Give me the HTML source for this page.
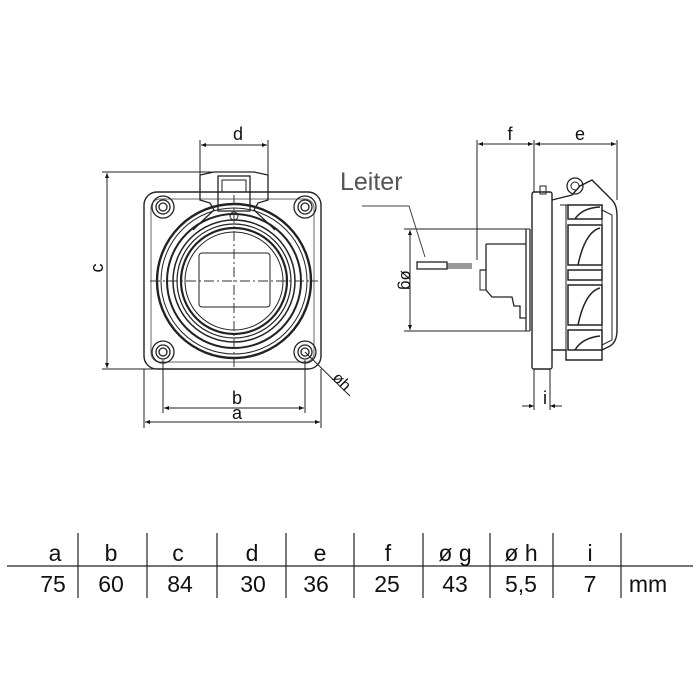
<!DOCTYPE html>
<html><head><meta charset="utf-8"><style>
html,body{margin:0;padding:0;background:#fff;}
svg{display:block}
text{font-family:"Liberation Sans",sans-serif;fill:#111}
</style></head><body>
<svg width="700" height="700" viewBox="0 0 700 700" xmlns="http://www.w3.org/2000/svg">
<defs>
<marker id="ar" viewBox="0 0 10 10" refX="10" refY="5" markerWidth="7" markerHeight="5" orient="auto-start-reverse"><path d="M0,1 L10,5 L0,9 z" fill="#111"/></marker>
</defs>
<g stroke="#222" fill="none" stroke-width="1">
<rect x="144" y="192" width="177" height="177" rx="13" stroke-width="1.4"/>
<rect x="151" y="199" width="163" height="163" rx="9" stroke="#666"/>
<g stroke-width="1.3">
<circle cx="163" cy="207" r="11"/><circle cx="163" cy="207" r="7"/><circle cx="163" cy="207" r="4"/>
<circle cx="305" cy="207" r="11"/><circle cx="305" cy="207" r="7"/><circle cx="305" cy="207" r="4"/>
<circle cx="163" cy="352" r="11"/><circle cx="163" cy="352" r="7"/><circle cx="163" cy="352" r="4"/>
<circle cx="305" cy="352" r="11"/><circle cx="305" cy="352" r="7"/><circle cx="305" cy="352" r="4"/>
</g>
<circle cx="234" cy="281" r="77" stroke-width="2.4"/>
<circle cx="234" cy="281" r="73" stroke-width="1"/>
<circle cx="234" cy="281" r="67" stroke-width="2"/>
<circle cx="234" cy="281" r="61" stroke-width="1.5"/>
<circle cx="234" cy="281" r="57" stroke-width="1.2"/>
<circle cx="234" cy="281" r="53" stroke-width="2.2"/>
<circle cx="234" cy="281" r="49" stroke-width="1"/>
<rect x="199" y="253" width="71" height="54" rx="3"/>
<path d="M200,175 L214,172 L254,172 L268,175 L268,200 L258,203 L254,210 Q270,225 275,230 M200,175 L200,200 L210,203 L214,210 Q198,225 193,230" stroke-width="1.3"/>
<rect x="218" y="176" width="32" height="35" stroke-width="1.3"/>
<rect x="222" y="180" width="24" height="12"/>
<circle cx="234" cy="216" r="4"/>
<path d="M150,281 H318 M234,195 V368" stroke-dasharray="10 3 2 3" stroke="#333"/>
<path d="M200,140 V178 M268,140 V178"/>
<path d="M201,145 H267" marker-start="url(#ar)" marker-end="url(#ar)"/>
<path d="M102,172 H212 M102,369 H160"/>
<path d="M107,173 V368" marker-start="url(#ar)" marker-end="url(#ar)"/>
<path d="M163,360 V413 M305,360 V413 M144,369 V428 M321,369 V428"/>
<path d="M164,408 H304" marker-start="url(#ar)" marker-end="url(#ar)"/>
<path d="M145,422 H320" marker-start="url(#ar)" marker-end="url(#ar)"/>
<path d="M305,352 L350,396"/>
<path d="M477,140 V260 M534,140 V192 M617,140 V200"/>
<path d="M478,144 H533" marker-start="url(#ar)" marker-end="url(#ar)"/>
<path d="M535,144 H616" marker-start="url(#ar)" marker-end="url(#ar)"/>
<rect x="532" y="192" width="20" height="177" rx="2" stroke-width="1.4"/>
<rect x="540" y="186" width="6" height="8"/>
<path d="M552,200 L572,195 L580,186 L592,180 L612,200 Q617,205 617,215 V330 Q617,342 610,346 L602,350 L602,360 L566,360 L566,350 L552,350" stroke-width="1.4"/>
<path d="M560,205 H602 V350 M566,205 V350 M602,210 L612,215 V340 L602,345"/>
<circle cx="575" cy="186" r="8" stroke-width="1.3"/><circle cx="575" cy="186" r="4"/>
<g stroke-width="1.5">
<rect x="568" y="205" width="34" height="14"/><rect x="568" y="225" width="34" height="40"/><rect x="568" y="270" width="34" height="10"/>
<rect x="568" y="285" width="34" height="40"/><rect x="568" y="330" width="34" height="20"/>
<path d="M578,265 Q585,232 600,228 M578,325 Q585,292 600,288 M575,219 Q582,208 600,207 M575,350 Q582,338 600,336"/>
</g>
<path d="M530,229 V331 M526,229 V331 M486,244 H526 M486,244 V290 M480,270 H486 V290 L492,297 H512 L514,306 H520 V318 H526" stroke-width="1.3"/>
<rect x="480" y="270" width="6" height="20"/>
<path d="M404,229 H530 M404,331 H530"/>
<path d="M410,230 V330" marker-start="url(#ar)" marker-end="url(#ar)"/>
<rect x="417" y="262" width="30" height="7" stroke-width="1.3"/>
<path d="M447,264 H472 M447,266 H472 M447,268 H472" stroke="#333"/>
<path d="M362,206 H409 L425,257" stroke="#444"/>
<path d="M534,369 V410 M550,369 V410"/>
<path d="M522,406 H534" marker-end="url(#ar)"/>
<path d="M562,406 H550" marker-end="url(#ar)"/>
<path d="M7,566 H693" stroke-width="1.2"/>
<path d="M78,533 V598 M147,533 V598 M217,533 V598 M286,533 V598 M354,533 V598 M423,533 V598 M490,533 V598 M553,533 V598 M621,533 V598" stroke-width="1.2"/>
</g>
<text x="238" y="140" font-size="18" text-anchor="middle">d</text>
<text x="98" y="273" font-size="18" text-anchor="middle" transform="rotate(-90 98 268)">c</text>
<text x="237" y="404" font-size="18" text-anchor="middle">b</text>
<text x="237" y="419" font-size="18" text-anchor="middle">a</text>
<text x="333" y="385" font-size="16" transform="rotate(45 340 380)">øh</text>
<text x="510" y="140" font-size="18" text-anchor="middle">f</text>
<text x="580" y="140" font-size="18" text-anchor="middle">e</text>
<text x="401" y="280" font-size="17" text-anchor="middle" transform="rotate(90 401 280)">øg</text>
<text x="545" y="404" font-size="18" text-anchor="middle">i</text>
<text x="340" y="190" font-size="25" style="fill:#555">Leiter</text>
<g font-size="23" text-anchor="middle">
<text x="55" y="561">a</text><text x="111" y="561">b</text><text x="178" y="561">c</text><text x="252" y="561">d</text><text x="320" y="561">e</text><text x="388" y="561">f</text><text x="455" y="561">ø g</text><text x="521" y="561">ø h</text><text x="590" y="561">i</text>
<text x="53" y="592">75</text><text x="111" y="592">60</text><text x="180" y="592">84</text><text x="253" y="592">30</text><text x="316" y="592">36</text><text x="387" y="592">25</text><text x="455" y="592">43</text><text x="521" y="592">5,5</text><text x="590" y="592">7</text><text x="648" y="592">mm</text>
</g>
</svg>
</body></html>
